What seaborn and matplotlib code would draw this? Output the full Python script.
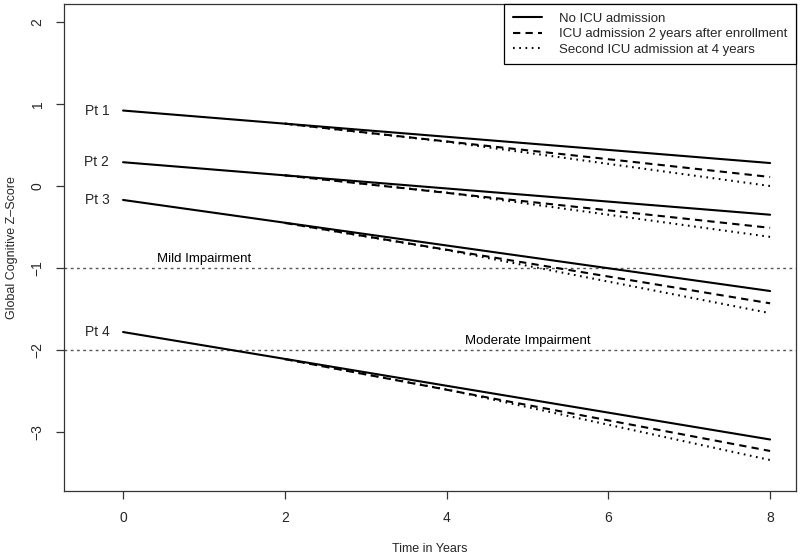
import matplotlib

matplotlib.use("Agg")

import matplotlib.pyplot as plt
import pandas as pd
import seaborn as sns

# values
PATIENTS = ["Pt 1", "Pt 2", "Pt 3", "Pt 4"]
SCENARIOS = [
    "No ICU admission",
    "ICU admission 2 years after enrollment",
    "Second ICU admission at 4 years",
]

NO_ICU_YEARS = [0, 8]
NO_ICU_SCORES = {
    "Pt 1": [0.92, 0.28],
    "Pt 2": [0.29, -0.35],
    "Pt 3": [-0.17, -1.28],
    "Pt 4": [-1.78, -3.09],
}

ICU_YEARS = [2, 8]
ICU_SCORES = {
    "Pt 1": [0.76, 0.11],
    "Pt 2": [0.13, -0.51],
    "Pt 3": [-0.45, -1.43],
    "Pt 4": [-2.11, -3.23],
}

SECOND_ICU_YEARS = [2, 4, 8]
SECOND_ICU_SCORES = {
    "Pt 1": [0.76, 0.54, 0.00],
    "Pt 2": [0.13, -0.08, -0.62],
    "Pt 3": [-0.45, -0.78, -1.55],
    "Pt 4": [-2.11, -2.48, -3.34],
}

THRESHOLDS = [-1, -2]
THRESHOLD_LABELS = ["Mild Impairment", "Moderate Impairment"]
THRESHOLD_LABEL_X = [1, 5]

X_TICKS = [0, 2, 4, 6, 8]
Y_TICKS = [-3, -2, -1, 0, 1, 2]


def build_frame() -> pd.DataFrame:
    rows = []
    sources = [
        (SCENARIOS[0], NO_ICU_YEARS, NO_ICU_SCORES),
        (SCENARIOS[1], ICU_YEARS, ICU_SCORES),
        (SCENARIOS[2], SECOND_ICU_YEARS, SECOND_ICU_SCORES),
    ]
    for scenario, years, scores in sources:
        for patient in PATIENTS:
            for year, score in zip(years, scores[patient]):
                rows.append(
                    {"scenario": scenario, "patient": patient, "year": year, "score": score}
                )
    return pd.DataFrame(rows)


df = build_frame()

sns.set_theme(style="ticks")
plt.rcParams["font.family"] = ["Liberation Sans", "DejaVu Sans"]

fig = plt.figure(figsize=(8.0, 5.55), dpi=100)
ax = fig.add_axes([0.08, 0.115, 0.915, 0.878])

for level in THRESHOLDS:
    ax.axhline(level, color="#555555", lw=1.0, linestyle=(0, (2, 2.5)), zorder=1)
for level, label, xpos in zip(THRESHOLDS, THRESHOLD_LABELS, THRESHOLD_LABEL_X):
    ax.text(xpos, level + 0.04, label, ha="center", va="bottom", fontsize=9.5, color="black")

sns.lineplot(
    data=df,
    x="year",
    y="score",
    style="scenario",
    style_order=SCENARIOS[::-1],
    units="patient",
    estimator=None,
    dashes={
        SCENARIOS[0]: "",
        SCENARIOS[1]: (3.5, 2.5),
        SCENARIOS[2]: (0.8, 2.2),
    },
    color="black",
    linewidth=1.5,
    ax=ax,
)

for patient in PATIENTS:
    ax.text(-0.17, NO_ICU_SCORES[patient][0], patient, ha="right", va="center", fontsize=10)

handles, labels = ax.get_legend_handles_labels()
order = [labels.index(s) for s in SCENARIOS]
leg = ax.legend(
    [handles[i] for i in order],
    [labels[i] for i in order],
    loc="upper right",
    bbox_to_anchor=(1.0, 1.0),
    borderaxespad=0,
    frameon=True,
    fancybox=False,
    framealpha=1,
    edgecolor="black",
    fontsize=9.5,
    handlelength=2.2,
    handletextpad=1.3,
    labelspacing=0.25,
    borderpad=0.65,
)
leg.get_frame().set_linewidth(0.9)

ax.set_xlim(-0.73, 8.32)
ax.set_ylim(-3.72, 2.22)
ax.set_xticks(X_TICKS)
ax.set_yticks(Y_TICKS)
ax.set_yticklabels([str(t).replace("-", "\u2212") for t in Y_TICKS], rotation=90, va="center")
ax.tick_params(axis="both", length=6, width=0.9, color="#333333", labelsize=10, pad=8)
ax.set_xlabel("Time in Years", fontsize=9, labelpad=13)
ax.set_ylabel("Global Cognitive Z\u2013Score", fontsize=9, labelpad=9)

for spine in ax.spines.values():
    spine.set_visible(True)
    spine.set_color("#333333")
    spine.set_linewidth(0.9)

fig.savefig("out.png", dpi=100)
plt.close(fig)
